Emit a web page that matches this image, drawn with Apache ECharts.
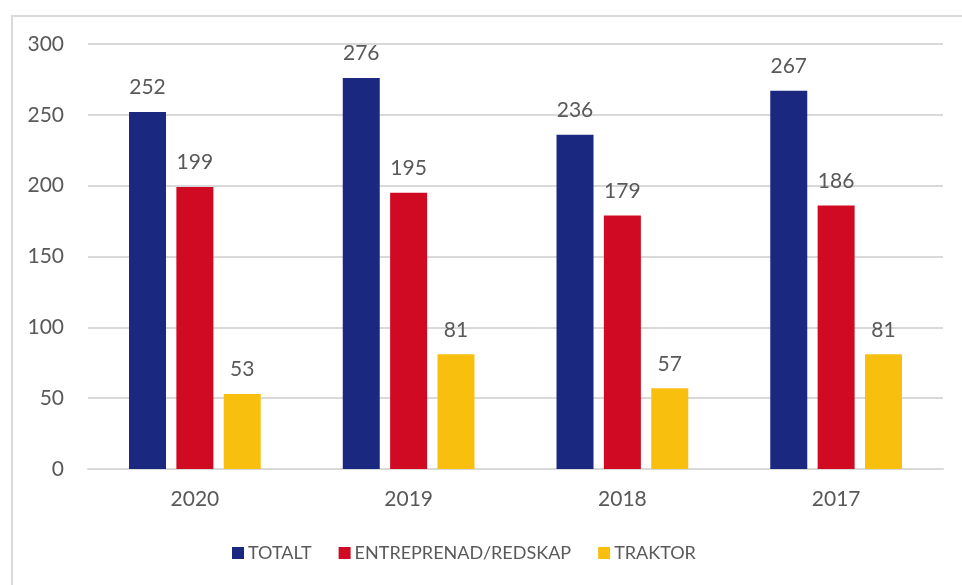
<!DOCTYPE html>
<html><head><meta charset="utf-8">
<script src="https://cdn.jsdelivr.net/npm/echarts@6/dist/echarts.min.js"></script>
<style>html,body{margin:0;padding:0;background:#fff}#c{width:962px;height:585px}</style>
</head><body><div id="c"></div>
<script>
const categories = ['2020', '2019', '2018', '2017'];
const totalt = [252, 276, 236, 267];
const entreprenad = [199, 195, 179, 186];
const traktor = [53, 81, 57, 81];
const seriesNames = ['TOTALT', 'ENTREPRENAD/REDSKAP', 'TRAKTOR'];
const yTicks = { min: 0, max: 300, interval: 50 };

const FONT = 'Lato';
const chart = echarts.init(document.getElementById('c'));
const labelStyle = { show: true, position: 'top', distance: 14, color: '#595959', fontFamily: FONT, fontSize: 21 };
function mk(name, data, color) {
  return { name, type: 'bar', data, barWidth: 37, barGap: '28%', itemStyle: { color }, label: labelStyle };
}
chart.setOption({
  animation: false,
  textStyle: { fontFamily: FONT },
  graphic: [{ type: 'rect', shape: { x: 12, y: 16, width: 1000, height: 700 }, style: { fill: 'none', stroke: '#d9d9d9', lineWidth: 2 } }],
  grid: { left: 88, right: 19, top: 44, bottom: 116 },
  legend: {
    left: 227, top: 539, itemWidth: 12, itemHeight: 12, itemGap: 27,
    icon: 'rect', textStyle: { color: '#595959', fontFamily: FONT, fontSize: 18, padding: [0, 0, 0, -1] },
    data: seriesNames
  },
  xAxis: {
    type: 'category', data: categories,
    axisLine: { lineStyle: { color: '#d9d9d9', width: 2 } }, axisTick: { show: false },
    axisLabel: { color: '#595959', fontFamily: FONT, fontSize: 21, margin: 20 }
  },
  yAxis: {
    type: 'value', min: yTicks.min, max: yTicks.max, interval: yTicks.interval,
    axisLine: { show: false }, axisTick: { show: false },
    splitLine: { lineStyle: { color: '#d9d9d9', width: 2 } },
    axisLabel: { color: '#595959', fontFamily: FONT, fontSize: 21, margin: 24 }
  },
  series: [
    mk(seriesNames[0], totalt, '#1b2880'),
    mk(seriesNames[1], entreprenad, '#d00a22'),
    mk(seriesNames[2], traktor, '#f9bf0f')
  ]
});
</script></body></html>
